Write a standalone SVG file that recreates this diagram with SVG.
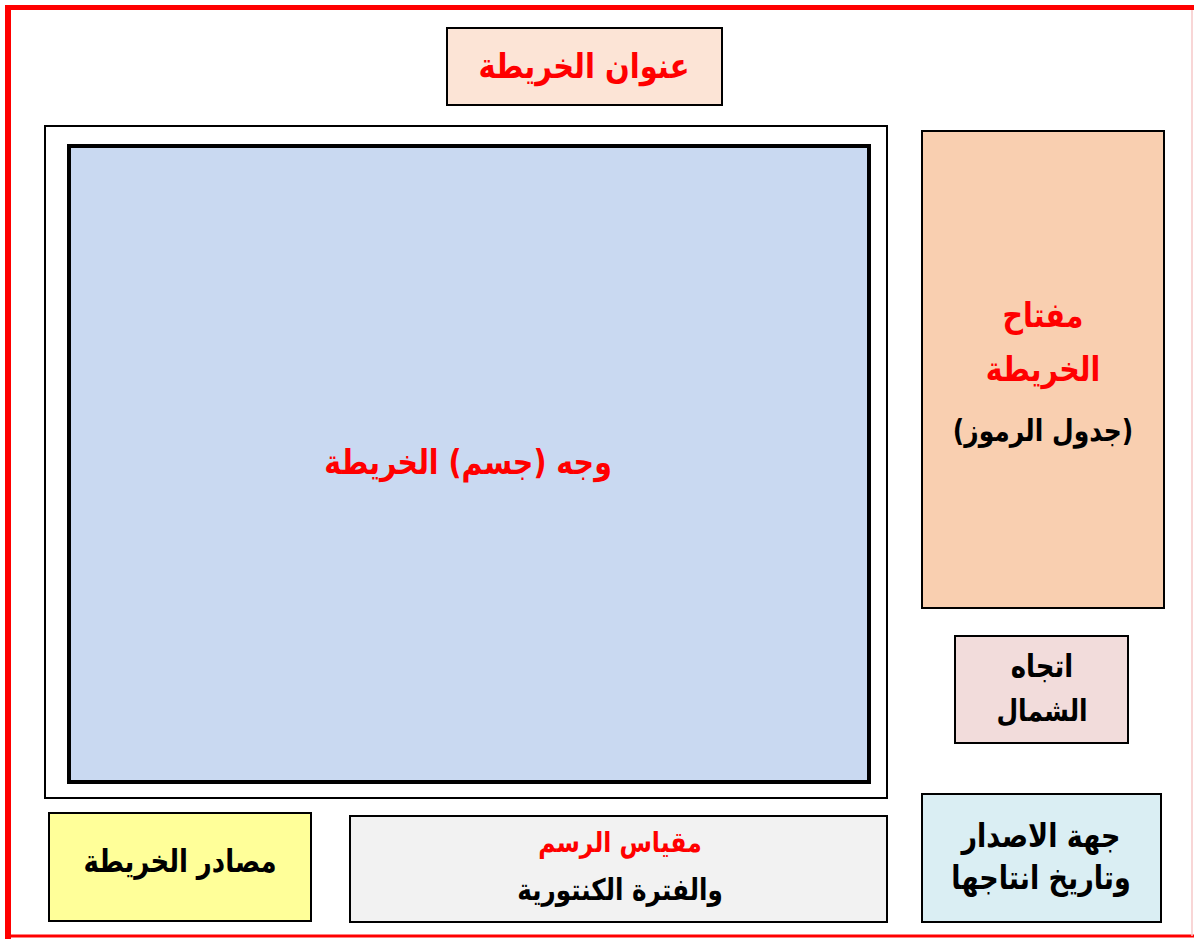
<svg xmlns="http://www.w3.org/2000/svg" width="1194" height="939" viewBox="0 0 1194 939">
<style>
.box{stroke:#000;stroke-width:2}
.t{font-family:"DejaVu Sans","Noto Sans",sans-serif;font-weight:bold;text-anchor:middle;direction:rtl}
.red{fill:#ff0000}
.blk{fill:#000}
</style>
<rect width="1194" height="939" fill="#fff"/>
<g id="frame">
<line x1="8" y1="5" x2="8" y2="939" stroke="#ff0000" stroke-width="6"/>
<line x1="5" y1="7.5" x2="1194" y2="7.5" stroke="#ff0000" stroke-width="5"/>
<line x1="5" y1="936" x2="1194" y2="936" stroke="#ff0000" stroke-width="3"/>
<line x1="1192" y1="10" x2="1192" y2="936" stroke="#f6c8c8" stroke-width="1.5"/>
</g>
<g id="title">
<rect class="box" x="447" y="28" width="275" height="77" fill="#fce4d6"/>
<text class="t red" transform="translate(584,78) scale(1,1.2)" font-size="29">عنوان الخريطة</text>
</g>
<g id="map">
<rect class="box" x="45" y="126" width="842" height="672" fill="#fff"/>
<rect x="69" y="146" width="800" height="636" fill="#c9d9f1" stroke="#000" stroke-width="4"/>
<text class="t red" transform="translate(468,474) scale(1,1.2)" font-size="28.5">وجه (جسم) الخريطة</text>
</g>
<g id="legend">
<rect class="box" x="922" y="131" width="242" height="477" fill="#f9cfb0"/>
<text class="t red" transform="translate(1043,327) scale(1,1.2)" font-size="28.5">مفتاح</text>
<text class="t red" transform="translate(1043,381) scale(1,1.2)" font-size="28.5">الخريطة</text>
<text class="t blk" transform="translate(1043,441) scale(1,1.2)" font-size="25">(جدول الرموز)</text>
</g>
<g id="north">
<rect class="box" x="955" y="636" width="173" height="107" fill="#f2dcdb"/>
<text class="t blk" transform="translate(1042,677) scale(1,1.2)" font-size="26">اتجاه</text>
<text class="t blk" transform="translate(1042,721) scale(1,1.2)" font-size="25">الشمال</text>
</g>
<g id="publisher">
<rect class="box" x="922" y="794" width="239" height="128" fill="#daeef3"/>
<text class="t blk" transform="translate(1041,847) scale(1,1.2)" font-size="27">جهة الاصدار</text>
<text class="t blk" transform="translate(1041,889) scale(1,1.2)" font-size="27">وتاريخ انتاجها</text>
</g>
<g id="sources">
<rect class="box" x="49" y="813" width="262" height="108" fill="#ffff99"/>
<text class="t blk" transform="translate(180,872) scale(1,1.2)" font-size="26">مصادر الخريطة</text>
</g>
<g id="scale">
<rect class="box" x="350" y="816" width="537" height="106" fill="#f2f2f2"/>
<text class="t red" transform="translate(620,852) scale(1,1.2)" font-size="23.5">مقياس الرسم</text>
<text class="t blk" transform="translate(620,900) scale(1,1.2)" font-size="24.7">والفترة الكنتورية</text>
</g>
<g id="connectors"></g>
</svg>
